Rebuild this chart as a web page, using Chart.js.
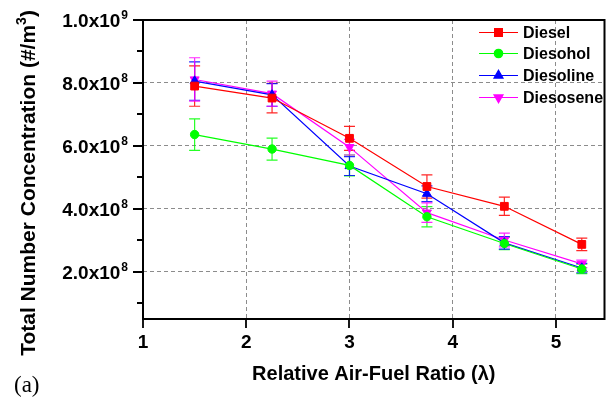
<!DOCTYPE html>
<html>
<head>
<meta charset="utf-8">
<script src="https://cdn.jsdelivr.net/npm/chart.js@4/dist/chart.umd.min.js"></script>
<style>
  html, body { margin: 0; padding: 0; background: #ffffff; }
  #wrap { width: 611px; height: 400px; }
</style>
</head>
<body>
<div id="wrap"><canvas id="chart" width="611" height="400"></canvas></div>
<script>
// Relative air-fuel ratio (lambda) at which each fuel was measured
const lambda = [1.5, 2.25, 3, 3.75, 4.5, 5.25];

// Total particle number concentration (#/m^3) and its standard error, per fuel
const seriesNames = ['Diesel', 'Diesohol', 'Diesoline', 'Diesosene'];
const diesel       = [7.90e8, 7.52e8, 6.24e8, 4.71e8, 4.08e8, 2.87e8];
const dieselErr    = [0.64e8, 0.47e8, 0.38e8, 0.37e8, 0.29e8, 0.20e8];
const diesohol     = [6.36e8, 5.90e8, 5.38e8, 3.75e8, 2.90e8, 2.09e8];
const diesoholErr  = [0.50e8, 0.35e8, 0.33e8, 0.32e8, 0.20e8, 0.15e8];
const diesoline    = [8.06e8, 7.62e8, 5.36e8, 4.48e8, 2.92e8, 2.12e8];
const diesolineErr = [0.61e8, 0.36e8, 0.30e8, 0.25e8, 0.20e8, 0.15e8];
const diesosene    = [8.11e8, 7.66e8, 5.96e8, 3.88e8, 3.01e8, 2.25e8];
const diesoseneErr = [0.69e8, 0.40e8, 0.25e8, 0.31e8, 0.22e8, 0.12e8];

// Axis ticks
const xTicks = [1, 2, 3, 4, 5];
const yTicks = [2e8, 4e8, 6e8, 8e8, 1e9];
const yMinorTicks = [1e8, 3e8, 5e8, 7e8, 9e8];

const SANS = "'Liberation Sans', Arial, sans-serif";
const colors = ['#ff0000', '#00ff00', '#0000ff', '#ff00ff'];
const styles = [
  { pointStyle: 'rect', radius: 5.5, rotation: 0 },
  { pointStyle: 'circle', radius: 4.2, rotation: 0 },
  { pointStyle: 'triangle', radius: 5.2, rotation: 0 },
  { pointStyle: 'triangle', radius: 5.2, rotation: 180 }
];
const values = [diesel, diesohol, diesoline, diesosene];
const errors = [dieselErr, diesoholErr, diesolineErr, diesoseneErr];

const datasets = seriesNames.map((name, i) => ({
  label: name,
  data: lambda.map((x, j) => ({ x: x, y: values[i][j] })),
  errors: errors[i],
  borderColor: colors[i],
  backgroundColor: colors[i],
  pointBackgroundColor: colors[i],
  pointBorderColor: colors[i],
  pointBorderWidth: 1,
  borderWidth: 1.2,
  pointStyle: styles[i].pointStyle,
  pointRadius: styles[i].radius,
  pointRotation: styles[i].rotation,
  tension: 0,
  fill: false
}));

// Vertical error bars with caps, placed through the chart scales
const errorBars = {
  id: 'errorBars',
  beforeDatasetsDraw(chart) {
    const ctx = chart.ctx;
    const xs = chart.scales.x, ys = chart.scales.y;
    const cap = 5.5;
    ctx.save();
    chart.data.datasets.forEach((ds) => {
      ctx.strokeStyle = ds.borderColor;
      ctx.globalAlpha = 0.85;
      ctx.lineWidth = 1.2;
      ds.data.forEach((p, j) => {
        const e = ds.errors[j];
        const x = xs.getPixelForValue(p.x);
        const yt = ys.getPixelForValue(p.y + e);
        const yb = ys.getPixelForValue(p.y - e);
        ctx.beginPath();
        ctx.moveTo(x, yt); ctx.lineTo(x, yb);
        ctx.moveTo(x - cap, yt); ctx.lineTo(x + cap, yt);
        ctx.moveTo(x - cap, yb); ctx.lineTo(x + cap, yb);
        ctx.stroke();
      });
    });
    ctx.restore();
  }
};

// Frame, tick marks, tick labels, axis titles and legend
const decorations = {
  id: 'decorations',
  afterDraw(chart) {
    const ctx = chart.ctx;
    const a = chart.chartArea;
    const xs = chart.scales.x, ys = chart.scales.y;
    ctx.save();

    // frame
    ctx.strokeStyle = '#000';
    ctx.lineWidth = 2;
    ctx.beginPath();
    ctx.rect(a.left, a.top, a.right - a.left, a.bottom - a.top);
    ctx.stroke();

    // y ticks
    ctx.lineWidth = 1.8;
    ctx.beginPath();
    yTicks.forEach(v => {
      const y = Math.round(ys.getPixelForValue(v));
      ctx.moveTo(a.left - 10, y); ctx.lineTo(a.left, y);
    });
    yMinorTicks.forEach(v => {
      const y = Math.round(ys.getPixelForValue(v));
      ctx.moveTo(a.left - 6, y); ctx.lineTo(a.left, y);
    });
    // x ticks
    xTicks.forEach(v => {
      const x = Math.round(xs.getPixelForValue(v));
      ctx.moveTo(x, a.bottom); ctx.lineTo(x, a.bottom + 9);
    });
    ctx.stroke();

    // y tick labels: mantissa x 10^exponent
    ctx.fillStyle = '#000';
    yTicks.forEach(v => {
      const y = ys.getPixelForValue(v);
      const exp = Math.floor(Math.log10(v) + 1e-9);
      const man = (v / Math.pow(10, exp)).toFixed(1);
      ctx.font = 'bold 12px ' + SANS;
      const supW = ctx.measureText(String(exp)).width;
      const right = 128;
      ctx.textAlign = 'left';
      ctx.textBaseline = 'alphabetic';
      ctx.fillText(String(exp), right - supW, y - 1);
      ctx.font = 'bold 19px ' + SANS;
      ctx.textAlign = 'right';
      ctx.fillText(man + 'x10', right - supW - 1, y + 7);
    });

    // x tick labels
    ctx.font = 'bold 19px ' + SANS;
    ctx.textAlign = 'center';
    ctx.textBaseline = 'alphabetic';
    xTicks.forEach(v => {
      ctx.fillText(String(v), xs.getPixelForValue(v), 348);
    });

    // x title
    ctx.font = 'bold 20px ' + SANS;
    ctx.fillText('Relative Air-Fuel Ratio (\u03bb)', (a.left + a.right) / 2, 380);

    // y title, rotated, with superscript 3
    ctx.save();
    ctx.translate(35, 183);
    ctx.rotate(-Math.PI / 2);
    const t1 = 'Total Number Concentration (#/m';
    const t2 = '3';
    const t3 = ')';
    ctx.font = 'bold 21px ' + SANS;
    const w1 = ctx.measureText(t1).width;
    const w3 = ctx.measureText(t3).width;
    ctx.font = 'bold 14px ' + SANS;
    const w2 = ctx.measureText(t2).width;
    let x0 = -(w1 + w2 + w3) / 2;
    ctx.textAlign = 'left';
    ctx.font = 'bold 21px ' + SANS;
    ctx.fillText(t1, x0, 0);
    ctx.font = 'bold 14px ' + SANS;
    ctx.fillText(t2, x0 + w1, -9);
    ctx.font = 'bold 21px ' + SANS;
    ctx.fillText(t3, x0 + w1 + w2, 0);
    ctx.restore();

    // panel label
    ctx.font = '23px "Liberation Serif", "Times New Roman", serif';
    ctx.textAlign = 'left';
    ctx.fillText('(a)', 14, 392);

    // legend
    const rows = [32.5, 53.5, 75.5, 97.5];
    chart.data.datasets.forEach((ds, i) => {
      const y = rows[i];
      ctx.strokeStyle = ds.borderColor;
      ctx.fillStyle = ds.borderColor;
      ctx.lineWidth = 1.2;
      ctx.beginPath();
      ctx.moveTo(479, y); ctx.lineTo(518, y);
      ctx.stroke();
      Chart.helpers.drawPoint(ctx, {
        pointStyle: styles[i].pointStyle,
        radius: styles[i].radius,
        rotation: styles[i].rotation,
        borderWidth: 1
      }, 498.5, y);
      ctx.fillStyle = '#000';
      ctx.font = 'bold 16px ' + SANS;
      ctx.textAlign = 'left';
      ctx.textBaseline = 'middle';
      ctx.fillText(ds.label, 523, y + 1);
    });

    ctx.restore();
  }
};

new Chart(document.getElementById('chart'), {
  type: 'line',
  data: { datasets: datasets },
  options: {
    responsive: false,
    animation: false,
    devicePixelRatio: 1,
    layout: { padding: { left: 143, top: 20, right: 3, bottom: 81 } },
    plugins: { legend: { display: false }, tooltip: { enabled: false } },
    scales: {
      x: {
        type: 'linear',
        min: 1,
        max: 5.47,
        afterBuildTicks: s => { s.ticks = xTicks.map(v => ({ value: v })); },
        ticks: { display: false },
        grid: { color: '#8c8c8c', lineWidth: 1, drawTicks: false },
        border: { display: false, dash: [4, 3] }
      },
      y: {
        type: 'linear',
        min: 0.5e8,
        max: 1e9,
        afterBuildTicks: s => { s.ticks = yTicks.map(v => ({ value: v })); },
        ticks: { display: false },
        grid: { color: '#8c8c8c', lineWidth: 1, drawTicks: false },
        border: { display: false, dash: [4, 3] }
      }
    }
  },
  plugins: [errorBars, decorations]
});
</script>
</body>
</html>
